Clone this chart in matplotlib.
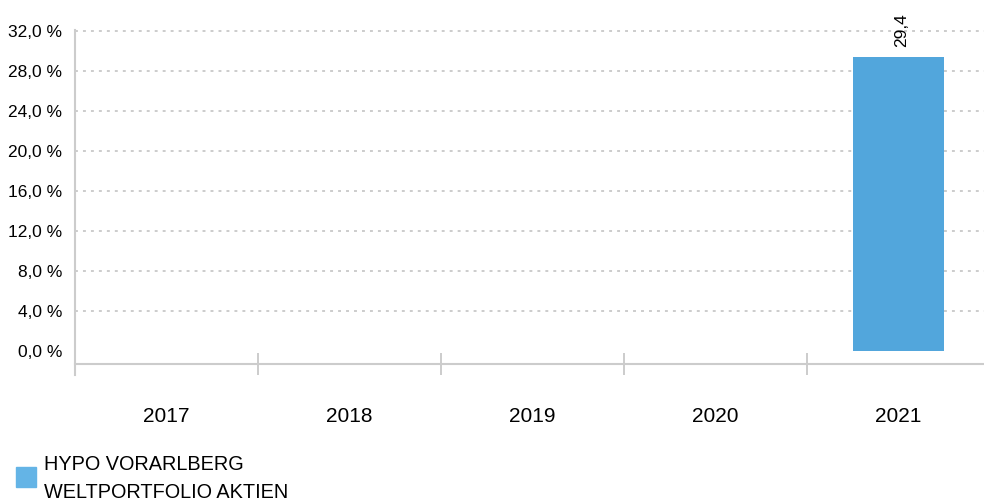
import matplotlib
matplotlib.use("Agg")
from matplotlib import pyplot as plt
from matplotlib.patches import Rectangle
import numpy as np

plt.rcParams['font.family'] = ['Liberation Sans', 'DejaVu Sans']

years = ['2017', '2018', '2019', '2020', '2021']
values = [np.nan, np.nan, np.nan, np.nan, 29.4]
value_labels = ['', '', '', '', '29,4']
y_ticks = [0, 4, 8, 12, 16, 20, 24, 28, 32]
y_ticklabels = ['0,0 %', '4,0 %', '8,0 %', '12,0 %', '16,0 %', '20,0 %', '24,0 %', '28,0 %', '32,0 %']
series_name = 'HYPO VORARLBERG\nWELTPORTFOLIO AKTIEN'

bar_color = '#52a6dc'
grid_color = '#cccccc'

fig = plt.figure(figsize=(9.84, 5.01), dpi=100)
W, H = 984, 501
left, right, top, bottom = 75, 990, 30, 364
ax = fig.add_axes([left / W, 1 - bottom / H, (right - left) / W, (bottom - top) / H])

x = np.arange(len(years))
bars = ax.bar(x, values, width=0.5, color=bar_color, zorder=3)
for xi, v, lab in zip(x, values, value_labels):
    if lab:
        ax.annotate(lab, (xi, v), xytext=(3, 10), textcoords='offset pixels',
                    rotation=90, ha='center', va='bottom', fontsize=12.5)

ax.set_xlim(-0.5, len(years) - 0.5)
ax.set_ylim(-1.3, 32.1)

# grid (skip zero line)
for t in y_ticks[1:]:
    ax.axhline(t, color=grid_color, lw=1.4, ls=(0, (1.5, 2.6)), zorder=1)

ax.set_yticks(y_ticks)
ax.set_yticklabels(y_ticklabels, fontsize=12.5)
ax.tick_params(axis='y', length=0, pad=9)

ax.set_xticks(np.arange(-0.5, len(years)), labels=[''] * (len(years) + 1))
ax.set_xticks(x, labels=years, minor=True)
ax.tick_params(axis='x', which='major', direction='inout', length=16, width=1.4, color=grid_color)
ax.tick_params(axis='x', which='minor', length=0, pad=31, labelsize=15)

for s in ['top', 'right']:
    ax.spines[s].set_visible(False)
ax.spines['left'].set_color(grid_color)
ax.spines['bottom'].set_color(grid_color)
ax.spines['left'].set_linewidth(1.5)
ax.spines['bottom'].set_linewidth(1.5)
ax.spines['left'].set_bounds(-2.4, 32.1)

# legend
fig.patches.append(Rectangle((16 / W, 1 - 487 / H), 20 / W, 20 / H,
                             transform=fig.transFigure, color='#64b4e6'))
fig.text(44 / W, 1 - 479 / H, series_name, fontsize=14.3, va='center', ha='left',
         linespacing=1.6)

fig.savefig('out.png', dpi=100)
